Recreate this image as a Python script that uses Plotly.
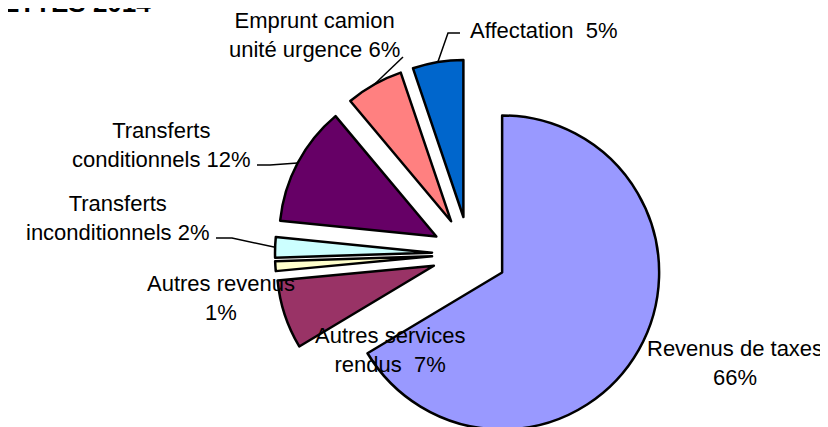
import math
import plotly.graph_objects as go

# ---- data ----
categories = ["Revenus de taxes", "Autres services rendus", "Autres revenus",
              "Transferts inconditionnels", "Transferts conditionnels",
              "Emprunt camion unité urgence", "Affectation"]
values = [66.4, 7.1, 1.0, 2.1, 12.3, 5.9, 5.2]
label_prefix = ["Revenus de taxes<br>", "Autres services<br>rendus\u00a0\u00a0", "Autres revenus<br>",
                "Transferts<br>inconditionnels ", "Transferts<br>conditionnels ",
                "Emprunt camion<br>unité urgence ", "Affectation\u00a0\u00a0"]
colors = ["#9999FF", "#993366", "#FFFFCC", "#CCFFFF", "#660066", "#FF8080", "#0066CC"]
title_text = "RECETTES 2014"

# ---- layout geometry (screen pixels) ----
W, H = 828, 427
OFF = 8                    # page body margin
CX, CY = 469.5, 254.0      # pie centre before explosion
R = 157.0                  # pie radius
EXPLODE = 37.5             # explosion distance
FONT = "Liberation Sans, Arial, sans-serif"

# label centres (px) and leader-line start points (px)
label_pos = [(735, 363), (390, 350), (221, 298), (117, 218), (161, 145), (314, 35), (544, 31)]
leader_start = {3: [(216, 238), (232, 238)], 4: [(257, 165), (270, 165)],
                5: [(403, 57)], 6: [(460, 33), (448, 33)]}


def px(x, y):
    return (x - OFF) / W, 1 - (y - OFF) / H


total = sum(values)
fig = go.Figure()
cum = 0.0
mids, verts = [], []
for i, v in enumerate(values):
    start = 360.0 * cum / total
    mid = start + 180.0 * v / total
    cum += v
    a = math.radians(mid)
    vx = CX + EXPLODE * math.sin(a)
    vy = CY - EXPLODE * math.cos(a)
    mids.append(a)
    verts.append((vx, vy))
    fx, fy = vx - OFF, vy - OFF
    fig.add_trace(go.Pie(
        labels=categories, values=values, sort=False, direction="clockwise", rotation=0,
        marker=dict(colors=[colors[j] if j == i else "rgba(0,0,0,0)" for j in range(len(values))],
                    line=dict(color="black", width=[2.5 if j == i else 0 for j in range(len(values))])),
        textinfo="none", hoverinfo="skip", showlegend=False,
        domain=dict(x=[(fx - R) / W, (fx + R) / W],
                    y=[max(0.0, 1 - (fy + R) / H), min(1.0, 1 - (fy - R) / H)]),
    ))

annotations = []
for i, v in enumerate(values):
    pct = round(100 * v / total)
    x, y = px(*label_pos[i])
    annotations.append(dict(text=f"{label_prefix[i]}{pct}%", x=x, y=y, xref="paper", yref="paper",
                            xanchor="center", yanchor="middle", showarrow=False, align="center",
                            font=dict(family=FONT, size=22, color="black")))

tx, ty = px(153, 20)
annotations.append(dict(text=f"<b>{title_text}</b>", x=tx, y=ty, xref="paper", yref="paper",
                        xanchor="right", yanchor="bottom", showarrow=False,
                        font=dict(family=FONT, size=26, color="black")))

shapes = []
for i, pts in leader_start.items():
    vx, vy = verts[i]
    ex = vx + R * math.sin(mids[i])
    ey = vy - R * math.cos(mids[i])
    allpts = pts + [(ex, ey)]
    path = "M " + " L ".join(f"{px(x, y)[0]:.5f},{px(x, y)[1]:.5f}" for x, y in allpts)
    shapes.append(dict(type="path", path=path, xref="paper", yref="paper",
                       line=dict(color="black", width=1.5)))

fig.update_layout(width=W, height=H, margin=dict(l=0, r=0, t=0, b=0),
                  paper_bgcolor="white", plot_bgcolor="white",
                  annotations=annotations, shapes=shapes, showlegend=False)

fig.write_html("out.html")
